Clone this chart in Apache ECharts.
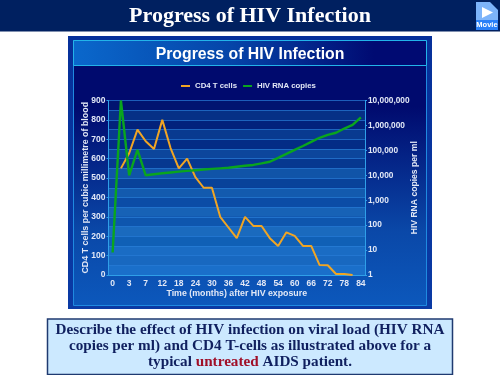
<!DOCTYPE html>
<html><head><meta charset="utf-8">
<style>html,body{margin:0;padding:0;background:#fff}#c{width:500px;height:375px}</style>
<script src="https://cdn.jsdelivr.net/npm/echarts@6/dist/echarts.min.js"></script>
</head><body><div id="c"></div>
<script>
const months = ['0','','3','','7','','12','','18','','24','','30','','36','','42','','48','','54','','60','','66','','72','','78','','84'];
const cd4 = [null,550,628,750,690,650,800,655,550,600,505,450,450,300,245,190,300,253,253,190,150,220,202,150,150,52,50,5,5,0,null];
const rna = [8,10000000,10000,105000,10000,11000,12000,13000,14000,15000,16000,17000,18000,19000,20000,22000,24000,26000,30000,35000,50000,72000,105000,150000,220000,320000,420000,510000,750000,1050000,2100000];
const bandColors = ['#1a6fca','#1868c0','#1a6cc4','#1060b6','#1a6abe','#0e56ae','#1762b6','#0b4ca6','#135aae','#08429a','#1054a8','#063890','#0c469c','#032c86','#083a90','#02227c','#063086','#011470'];
const navy = '#002060';
const chart = echarts.init(document.getElementById('c'), null, {renderer:'canvas'});
const tick = {color:'#e2e8f6', fontFamily:'Liberation Sans, Arial', fontWeight:'bold', fontSize:8.5};
chart.setOption({
  animation:false,
  backgroundColor:'#fff',
  title:{text:'Progress of HIV Infection', left:'center', top:41.5, itemGap:0,
    textStyle:{color:'#fff', fontFamily:'Liberation Sans, Arial', fontWeight:'bold', fontSize:15.8}},
  legend:{top:77, left:176, itemWidth:9, itemHeight:2, itemGap:6, icon:'rect',
    textStyle:{color:'#e2e8f6', fontFamily:'Liberation Sans, Arial', fontWeight:'bold', fontSize:7.8, padding:[0,0,0,0]},
    data:['CD4 T cells','HIV RNA copies']},
  grid:{left:108.5, right:135, top:100.5, bottom:100},
  xAxis:{type:'category', data:months, boundaryGap:true,
    name:'Time (months) after HIV exposure', nameLocation:'middle', nameGap:14,
    nameTextStyle:{color:'#e2e8f6', fontFamily:'Liberation Sans, Arial', fontWeight:'bold', fontSize:8.8},
    axisLine:{lineStyle:{color:'#2f9fe8', width:1}},
    axisTick:{interval:1, length:2, lineStyle:{color:'#2f9fe8'}},
    axisLabel:Object.assign({interval:1, margin:4}, tick)},
  yAxis:[
    {type:'value', min:0, max:900, interval:100, position:'left',
     name:'CD4 T cells per cubic millimetre of blood', nameLocation:'middle', nameGap:18, nameMoveOverlap:false,
     nameTextStyle:{color:'#e2e8f6', fontFamily:'Liberation Sans, Arial', fontWeight:'bold', fontSize:8.9},
     axisLine:{show:true, lineStyle:{color:'#2f9fe8', width:1}},
     axisTick:{show:true, length:2, lineStyle:{color:'#2f9fe8'}},
     splitLine:{show:false},
     axisLabel:Object.assign({margin:3}, tick)},
    {type:'log', logBase:10, min:1, max:10000000, position:'right',
     name:'HIV RNA copies per ml', nameLocation:'middle', nameGap:45, nameRotate:90, nameMoveOverlap:false,
     nameTextStyle:{color:'#e2e8f6', fontFamily:'Liberation Sans, Arial', fontWeight:'bold', fontSize:8.6},
     axisLine:{show:true, lineStyle:{color:'#2f9fe8', width:1}},
     axisTick:{show:true, length:2, lineStyle:{color:'#2f9fe8'}},
     splitLine:{show:false}, minorTick:{show:false},
     axisLabel:Object.assign({}, tick, {margin:3, fontSize:8.3, formatter:v=>Number(v).toLocaleString('en-US')})},
    {type:'value', min:0, max:900, interval:50, position:'left', z:0,
     axisLine:{show:false}, axisTick:{show:false}, axisLabel:{show:false},
     splitLine:{show:true, lineStyle:{color:'#2a7fd8', width:1, opacity:.7}},
     splitArea:{show:true, areaStyle:{color:bandColors, opacity:1}}}
  ],
  series:[
    {name:'CD4 T cells', type:'line', yAxisIndex:0, data:cd4, showSymbol:false, symbol:'none', connectNulls:false,
     lineStyle:{color:'#f0a524', width:2}, itemStyle:{color:'#f0a524'}, z:3},
    {name:'HIV RNA copies', type:'line', yAxisIndex:1, data:rna, showSymbol:false, symbol:'none',
     lineStyle:{color:'#0aa51e', width:2.4}, itemStyle:{color:'#0aa51e'}, z:4}
  ],
  graphic:[
    {type:'rect', z:-10, silent:true, shape:{x:0,y:0,width:500,height:31.5}, style:{fill:navy}},
    {type:'text', z:5, silent:true, x:250, y:16.5, style:{text:'Progress of HIV Infection', align:'center', verticalAlign:'middle',
      font:'bold 22px "Liberation Serif", "Times New Roman", serif', fill:'#fff'}},
    {type:'rect', z:-10, silent:true, shape:{x:68,y:36,width:364,height:273},
      style:{fill:{type:'linear',x:0,y:0,x2:0,y2:1,colorStops:[{offset:0,color:'#06309a'},{offset:1,color:'#0a3aa4'}]}}},
    {type:'rect', z:-9, silent:true, shape:{x:73.5,y:40.5,width:353,height:265},
      style:{stroke:'#1f8ae0', lineWidth:1, fill:{type:'linear',x:0,y:0,x2:0,y2:1,colorStops:[{offset:0,color:'#000a6e'},{offset:.25,color:'#000a6e'},{offset:.72,color:'#0a48a8'},{offset:1,color:'#0c58bc'}]}}},
    {type:'rect', z:-8, silent:true, shape:{x:73.5,y:40.5,width:353,height:25},
      style:{stroke:'#22b4ea', lineWidth:1, fill:{type:'linear',x:0,y:0,x2:1,y2:0,colorStops:[{offset:0,color:'#0a68cc'},{offset:.45,color:'#0544a8'},{offset:.85,color:'#000a72'},{offset:1,color:'#000a72'}]}}},
    {type:'rect', z:5, silent:true, shape:{x:47.5,y:319,width:405,height:55.5},
      style:{fill:'#cce9ff', stroke:'#1f3a70', lineWidth:1.5}},
    {type:'text', z:6, silent:true, x:250, y:346.5, style:{
      text:'{a|Describe the effect of HIV infection on viral load (HIV RNA}\n{a|copies per ml) and CD4 T-cells as illustrated above for a}\n{a|typical }{r|untreated}{a| AIDS patient.}',
      align:'center', verticalAlign:'middle', lineHeight:16,
      rich:{a:{font:'bold 15.2px "Liberation Serif", serif', fill:'#10205f', lineHeight:16},
            r:{font:'bold 15.2px "Liberation Serif", serif', fill:'#a00f28', lineHeight:16}}}},
    {type:'polygon', z:6, silent:true, shape:{points:[[476,2],[490,2],[498,10],[498,30],[476,30]]}, style:{fill:'#7db4fa'}},
    {type:'rect', z:7, silent:true, shape:{x:476,y:20,width:22,height:10}, style:{fill:'#2a80f8'}},
    {type:'polygon', z:7, silent:true, shape:{points:[[482,7],[482,18],[493,12.5]]}, style:{fill:'#fff'}},
    {type:'text', z:8, silent:true, x:487, y:25, style:{text:'Movie', align:'center', verticalAlign:'middle', font:'bold 7.5px "Liberation Sans", Arial', fill:'#fff'}}
  ]
});
</script></body></html>
